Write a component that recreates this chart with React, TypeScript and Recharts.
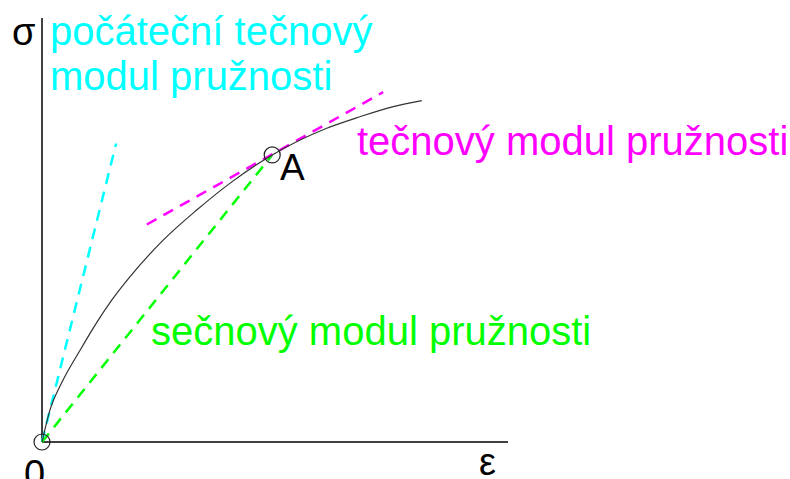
import { ComposedChart, Line, Scatter, XAxis, YAxis, ReferenceLine } from "recharts";

// stress-strain curve (arbitrary units 0..100)
const curve = [
  { x: 0, y: 0 },
  { x: 1.7, y: 7.5 },
  { x: 4.2, y: 13.9 },
  { x: 8.2, y: 21.7 },
  { x: 11.7, y: 28.1 },
  { x: 15.0, y: 33.5 },
  { x: 18.9, y: 39.0 },
  { x: 26.0, y: 47.6 },
  { x: 33.2, y: 54.7 },
  { x: 40.3, y: 61.0 },
  { x: 49.4, y: 67.7 },
  { x: 61.1, y: 74.0 },
  { x: 68.2, y: 76.7 },
  { x: 75.4, y: 79.1 },
  { x: 81.5, y: 80.5 },
];

const initialTangent = [
  { x: 0, y: 0 },
  { x: 15.9, y: 70.4 },
];

const tangentAtA = [
  { x: 22.5, y: 51.3 },
  { x: 73.2, y: 82.5 },
];

const secant = [
  { x: 0, y: 0 },
  { x: 49.4, y: 67.7 },
];

const markedPoints = [
  { x: 0, y: 0 },
  { x: 49.4, y: 67.7 },
];

const font = "'Liberation Sans', Arial, sans-serif";

const ring = (props: any) => (
  <circle cx={props.cx} cy={props.cy} r={8} fill="none" stroke="#222" strokeWidth={1.2} />
);

export default function App() {
  return (
    <div style={{ position: "absolute", left: 0, top: 0, background: "#fff" }}>
      <ComposedChart
        width={790}
        height={479}
        margin={{ top: 18, right: 282, left: 42, bottom: 37 }}
        style={{ fontFamily: font }}
      >
        <XAxis type="number" dataKey="x" domain={[0, 100]} hide />
        <YAxis type="number" dataKey="y" domain={[0, 100]} hide />
        <ReferenceLine x={0} stroke="#000" strokeWidth={1.5} />
        <ReferenceLine y={0} stroke="#000" strokeWidth={1.5} />
        <Line data={initialTangent} dataKey="y" type="linear" stroke="#00ffff" strokeWidth={2.5} strokeDasharray="11 8" dot={false} isAnimationActive={false} />
        <Line data={secant} dataKey="y" type="linear" stroke="#00ff00" strokeWidth={2.5} strokeDasharray="11 8" dot={false} isAnimationActive={false} />
        <Line data={tangentAtA} dataKey="y" type="linear" stroke="#ff00ff" strokeWidth={2.5} strokeDasharray="11 8" dot={false} isAnimationActive={false} />
        <Line data={curve} dataKey="y" type="monotone" stroke="#333" strokeWidth={1.2} dot={false} isAnimationActive={false} />
        <Scatter data={markedPoints} dataKey="y" shape={ring} isAnimationActive={false} />

        <text x={12} y={45} fontSize={38} fill="#000">σ</text>
        <text x={50} y={45} fontSize={40} fill="#00ffff">počáteční tečnový</text>
        <text x={50} y={90} fontSize={40} fill="#00ffff">modul pružnosti</text>
        <text x={357} y={155} fontSize={40} fill="#ff00ff">tečnový modul pružnosti</text>
        <text x={280} y={180} fontSize={37} fill="#000">A</text>
        <text x={151} y={345} fontSize={40} fill="#00ff00">sečnový modul pružnosti</text>
        <text x={24} y={487} fontSize={38} fill="#000">0</text>
        <text x={479} y={475} fontSize={38} fill="#000">ε</text>
      </ComposedChart>
    </div>
  );
}
